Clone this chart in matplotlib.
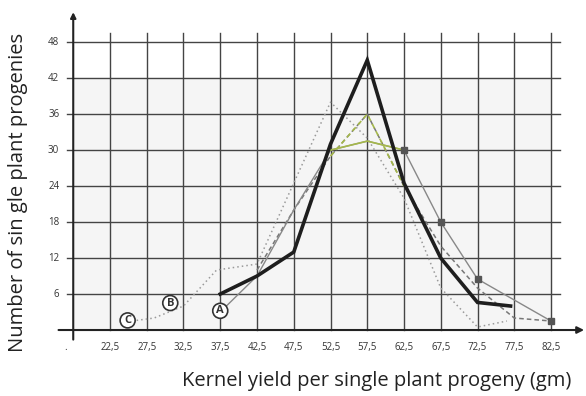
import matplotlib.pyplot as plt
from matplotlib.patches import Rectangle

plt.rcParams['font.family'] = ['Open Sans', 'DejaVu Sans']

# x tick positions and labels (comma decimals as in the source)
x_ticks = [22.5, 27.5, 32.5, 37.5, 42.5, 47.5, 52.5, 57.5, 62.5, 67.5, 72.5, 77.5, 82.5]
x_labels = ["22,5", "27,5", "32,5", "37,5", "42,5", "47,5", "52,5", "57,5",
            "62,5", "67,5", "72,5", "77,5", "82,5"]
y_ticks = [6, 12, 18, 24, 30, 36, 42, 48]

# A: thick black line
a_x = [37.5, 42.5, 47.5, 52.5, 57.5, 62.5, 67.5, 72.5, 77.0]
a_y = [6, 9, 13, 31, 45, 24.5, 12, 4.6, 4]

# thin grey line with square markers
s_x = [37.5, 42.5, 47.5, 52.5, 57.5, 62.5, 67.5, 72.5, 82.5]
s_y = [3, 9, 20, 30, 31.5, 30, 18, 8.5, 1.5]

# B: dashed line
b_x = [42.5, 47.5, 52.5, 57.5, 62.5, 67.5, 72.5, 77.5, 82.5]
b_y = [10, 20, 29, 36, 24, 14, 7, 2, 1.5]

# C: dotted line
c_x = [25.5, 28.5, 32.5, 37.0, 42.5, 52.5, 57.5, 62.5, 67.5, 72.5, 76.5]
c_y = [1.5, 2, 4, 10, 11, 38, 32, 22, 7, 0.5, 1.5]

green = "#a5b84a"

fig = plt.figure(figsize=(5.86, 3.96), dpi=100)
ax = fig.add_axes([47 / 586, 51 / 396, 539 / 586, 340 / 396])
ax.set_xlim(13.93, 87.26)
ax.set_ylim(-2.5, 54.2)
ax.axis("off")

# shaded grid area
ax.add_patch(Rectangle((17.5, 0), 65, 42, color="#f5f5f5", zorder=0))

# grid
for x in x_ticks:
    ax.plot([x, x], [0, 49.5], color="#444444", lw=1.0, zorder=1)
for y in y_ticks:
    ax.plot([16.7, 83.7], [y, y], color="#444444", lw=1.0, zorder=1)

# axes with arrows
ax.annotate("", xy=(87.0, 0), xytext=(15.5, 0),
            arrowprops=dict(arrowstyle="-|>", color="#222222", lw=1.5,
                            mutation_scale=10, shrinkA=0, shrinkB=0), zorder=2)
ax.annotate("", xy=(17.5, 53.0), xytext=(17.5, -1.6),
            arrowprops=dict(arrowstyle="-|>", color="#222222", lw=1.5,
                            mutation_scale=8, shrinkA=0, shrinkB=0), zorder=2)

# tick labels
for x, lab in zip(x_ticks, x_labels):
    ax.text(x, -2.9, lab, ha="center", va="center", fontsize=7,
            color="#333333", clip_on=False)
ax.text(16.4, -2.9, ".", ha="center", va="center", fontsize=7, color="#333333")
for y in y_ticks:
    ax.text(15.6, y, str(y), ha="right", va="center", fontsize=7, color="#333333")

# series
ax.plot(c_x, c_y, color="#9a9a9a", lw=1.1, ls=(0, (1, 2)), zorder=3)
ax.plot(b_x, b_y, color="#777777", lw=1.1, ls=(0, (3, 2)), zorder=3)
ax.plot(b_x[2:5], b_y[2:5], color=green, lw=1.2, ls=(0, (3, 2)), zorder=3)
ax.plot(s_x, s_y, color="#888888", lw=1.0, zorder=3)
ax.plot(s_x[3:6], s_y[3:6], color=green, lw=1.2, zorder=3)
ax.plot(s_x[5:], s_y[5:], ls="none", marker="s", ms=4, color="#555555", zorder=4)
ax.plot(a_x, a_y, color="#1e1e1e", lw=2.6, solid_joinstyle="miter", zorder=5)

# circled letters
for lab, x, y in [("C", 24.9, 1.6), ("B", 30.7, 4.5), ("A", 37.5, 3.2)]:
    ax.text(x, y, lab, ha="center", va="center", fontsize=8, fontweight="bold",
            color="#333333", zorder=6,
            bbox=dict(boxstyle="circle,pad=0.18", fc="white", ec="#333333", lw=1.2))

fig.text(18 / 586, 1 - 192 / 396, "Number of sin gle plant progenies", rotation=90,
         ha="center", va="center", fontsize=14.5, color="#222222")
fig.text(377 / 586, 1 - 381 / 396, "Kernel yield per single plant progeny (gm)",
         ha="center", va="center", fontsize=14.5, color="#222222")

fig.savefig("out.png", dpi=100)
